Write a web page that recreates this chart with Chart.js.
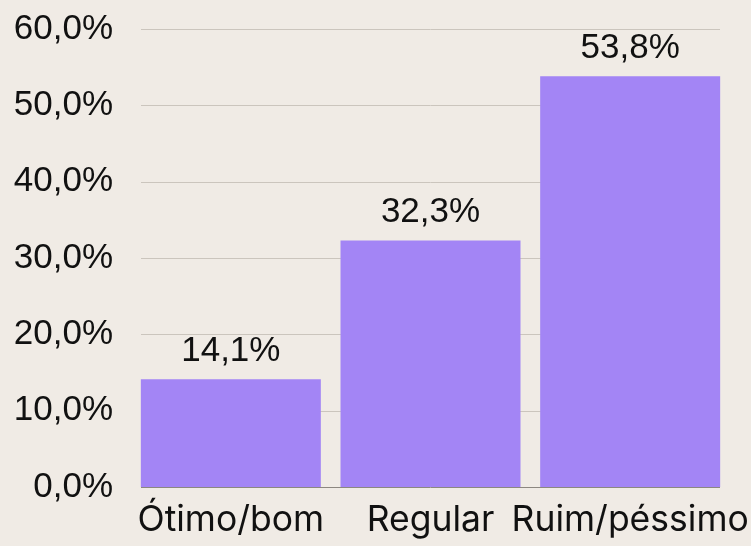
<!DOCTYPE html>
<html>
<head>
<meta charset="utf-8">
<script src="https://cdn.jsdelivr.net/npm/chart.js@4"></script>
<style>
  html, body { margin: 0; padding: 0; background: #f0ebe5; }
  #wrap { width: 751px; height: 546px; }
</style>
</head>
<body>
<div id="wrap"><canvas id="chart" width="751" height="546"></canvas></div>
<script>
// dati del grafico
const categorie = ['Ótimo/bom', 'Regular', 'Ruim/péssimo'];
const valori = [14.1, 32.3, 53.8];
const tickMax = 60;
const tickStep = 10;

const fmt = v => v.toFixed(1).replace('.', ',') + '%';
const numFont = '"Liberation Sans", Arial, sans-serif';

// griglia solo sull'estensione delle barre + etichette sopra le barre
const barDecor = {
    id: 'barDecor',
    beforeDatasetsDraw(chart) {
        const ctx = chart.ctx;
        const meta = chart.getDatasetMeta(0);
        const first = meta.data[0], last = meta.data[meta.data.length - 1];
        const x0 = Math.round(first.x - first.width / 2);
        const x1 = Math.round(last.x + last.width / 2);
        const y = chart.scales.y;
        ctx.save();
        y.ticks.forEach(t => {
            const py = Math.round(y.getPixelForValue(t.value)) + 0.5;
            ctx.strokeStyle = t.value === 0 ? '#8c8780' : '#cbc5bd';
            ctx.lineWidth = 1;
            ctx.beginPath();
            ctx.moveTo(x0, py);
            ctx.lineTo(x1, py);
            ctx.stroke();
        });
        ctx.restore();
    },
    afterDatasetsDraw(chart) {
        const ctx = chart.ctx;
        const meta = chart.getDatasetMeta(0);
        ctx.save();
        ctx.fillStyle = '#111';
        ctx.font = '35px ' + numFont;
        ctx.textAlign = 'center';
        ctx.textBaseline = 'alphabetic';
        meta.data.forEach((bar, i) => {
            ctx.fillText(fmt(valori[i]), bar.x, bar.y - 18);
        });
        ctx.restore();
    }
};

new Chart(document.getElementById('chart'), {
    type: 'bar',
    data: {
        labels: categorie,
        datasets: [{
            data: valori,
            backgroundColor: '#a385f5',
            barPercentage: 0.9015,
            categoryPercentage: 1
        }]
    },
    options: {
        responsive: false,
        animation: false,
        layout: { padding: { left: 0, right: 21, top: 29, bottom: 0 } },
        plugins: {
            legend: { display: false },
            tooltip: { enabled: false }
        },
        scales: {
            x: {
                grid: { display: false, drawTicks: false },
                border: { display: false },
                ticks: {
                    color: '#111',
                    font: { size: 35.5, family: 'Inter, "Noto Sans", sans-serif' },
                    padding: 12,
                    maxRotation: 0,
                    autoSkip: false
                },
                afterFit(axis) {
                    axis.height = 59;
                    axis.paddingLeft = 0;
                    axis.paddingRight = 0;
                }
            },
            y: {
                min: 0,
                max: tickMax,
                grid: { display: false, drawTicks: false },
                border: { display: false },
                ticks: {
                    stepSize: tickStep,
                    color: '#111',
                    padding: 18,
                    font: { size: 35, family: numFont },
                    callback: v => fmt(v)
                },
                afterFit(axis) {
                    axis.width = 131;
                    axis.paddingTop = 0;
                    axis.paddingBottom = 0;
                }
            }
        }
    },
    plugins: [barDecor]
});
</script>
</body>
</html>
